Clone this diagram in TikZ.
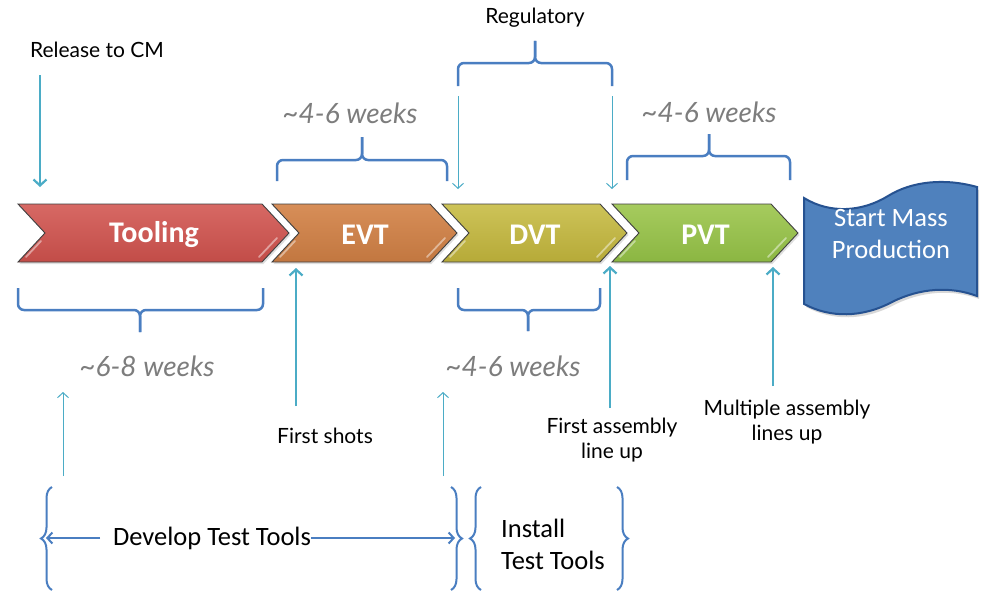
\documentclass[tikz,border=0pt]{standalone}
\usepackage{fontspec}
\newfontfamily\labfont{Lato}
\newfontfamily\calfont{Carlito}
\usetikzlibrary{arrows.meta,decorations.pathreplacing,shadows}
\definecolor{arrteal}{RGB}{75,172,198}
\definecolor{braceblue}{RGB}{74,126,193}
\definecolor{wkgray}{RGB}{125,125,125}
\definecolor{toolA}{RGB}{215,105,100}
\definecolor{toolB}{RGB}{194,76,72}
\definecolor{evtA}{RGB}{215,142,88}
\definecolor{evtB}{RGB}{194,119,64}
\definecolor{dvtA}{RGB}{205,195,88}
\definecolor{dvtB}{RGB}{182,170,56}
\definecolor{pvtA}{RGB}{166,203,94}
\definecolor{pvtB}{RGB}{139,182,66}
\definecolor{massfill}{RGB}{79,129,189}
\definecolor{massdraw}{RGB}{38,82,145}
\newcommand\tld{\char126\relax}
\tikzset{
  thickarr/.style={draw=arrteal, line width=2.2pt, -{Straight Barb[length=6pt,width=13pt]}},
  thinarr/.style={draw=arrteal, line width=1pt, -{Straight Barb[length=5pt,width=11pt]}},
  brc/.style={draw=braceblue, line width=2.5pt, rounded corners=6pt},
  vbrace/.style={draw=braceblue, line width=2pt, decorate, decoration={brace, amplitude=11pt}},
  blarr/.style={draw=braceblue, line width=2pt, -{Straight Barb[length=5pt,width=11pt]}},
  lbl/.style={font=\labfont\fontsize{21}{25}\selectfont, text=black, inner sep=0pt, align=center},
  wk/.style={font=\labfont\itshape\fontsize{28}{32}\selectfont, text=wkgray, inner sep=0pt},
  chevtext/.style={font=\calfont\bfseries\fontsize{30}{34}\selectfont, text=white, inner sep=0pt},
  caltext/.style={font=\calfont\fontsize{26.5}{32}\selectfont, inner sep=0pt},
}
\newcommand\mychev[6]{%
  \path[draw=black!75, line width=0.9pt, top color=#3, bottom color=#4,
        drop shadow={opacity=0.25, shadow xshift=1.5pt, shadow yshift=-2pt}]
    (#1,204) -- (#2,204) -- ({#2+27},233) -- (#2,262) -- (#1,262) -- ({#1+27},233) -- cycle;
  \draw[white, opacity=0.45, line width=1.8pt, line cap=round] ({#1+8},257) -- ({#1+23},241);
  \draw[white, opacity=0.45, line width=1.8pt, line cap=round] ({#2-3},257) -- ({#2+15},238);
  \node[chevtext] (#5) at ({(#1+#2)/2+14},235) {#6};
}
\begin{document}
\begin{tikzpicture}[x=1pt,y=-1pt]
\useasboundingbox[fill=white] (0,0) rectangle (984,594);

% chevrons
\mychev{18}{262}{toolA}{toolB}{tooling}{Tooling}
\mychev{272}{430}{evtA}{evtB}{evt}{EVT}
\mychev{442}{600}{dvtA}{dvtB}{dvt}{DVT}
\mychev{612}{771}{pvtA}{pvtB}{pvt}{PVT}

% mass production box
\path[fill=massfill, draw=massdraw, line width=2pt,
      drop shadow={opacity=0.3, shadow xshift=2pt, shadow yshift=-3pt}]
  (804,198) .. controls (830,214) and (862,212) .. (888,196)
  .. controls (912,181) and (945,178) .. (977,187)
  -- (977,296) .. controls (950,286) and (920,288) .. (892,302)
  .. controls (862,318) and (830,318) .. (804,304) -- cycle;
\node[caltext, text=white, align=center] (mass) at (891,234) {Start Mass\\Production};

% top labels
\node[lbl] (rel) at (97,50) {Release to CM};
\coordinate (relA) at (40,75);
\coordinate (relB) at (40,187);
\draw[thickarr] (relA) -- (relB);

\node[wk] (wk1) at (350,113) {\tld4-6 weeks};
\draw[brc] (277,181) -- (277,160) -- (362,160) -- (362,137);
\draw[brc] (447,181) -- (447,160) -- (362,160) -- (362,137);

\node[lbl] (reg) at (535,18) {Regulatory};
\draw[brc] (458,86) -- (458,63) -- (535,63) -- (535,41);
\draw[brc] (612,86) -- (612,63) -- (535,63) -- (535,41);
\coordinate (regA1) at (458,96);
\coordinate (regB1) at (458,189);
\coordinate (regA2) at (612,96);
\coordinate (regB2) at (612,189);
\draw[thinarr] (regA1) -- (regB1);
\draw[thinarr] (regA2) -- (regB2);

\node[wk] (wk3) at (709,112) {\tld4-6 weeks};
\draw[brc] (627,180) -- (627,156) -- (709,156) -- (709,134);
\draw[brc] (790,180) -- (790,156) -- (709,156) -- (709,134);

% bottom braces
\draw[brc] (18,288) -- (18,310) -- (140,310) -- (140,332);
\draw[brc] (263,288) -- (263,310) -- (140,310) -- (140,332);
\node[wk] (wk2) at (147,366) {\tld6-8 weeks};

\draw[brc] (458,288) -- (458,310) -- (528,310) -- (528,331);
\draw[brc] (600,288) -- (600,310) -- (528,310) -- (528,331);
\node[wk] (wk4) at (513,366) {\tld4-6 weeks};

% upward arrows
\node[lbl] (shots) at (325,436) {First shots};
\coordinate (shA) at (296,406);
\coordinate (shB) at (296,268);
\draw[thickarr] (shA) -- (shB);

\node[lbl] (fal) at (612,440) {First assembly\\line up};
\coordinate (faA) at (610,408);
\coordinate (faB) at (610,266);
\draw[thickarr] (faA) -- (faB);

\node[lbl] (mal) at (787,422) {Multiple assembly\\lines up};
\coordinate (maA) at (773,386);
\coordinate (maB) at (773,267);
\draw[thickarr] (maA) -- (maB);

\coordinate (t1A) at (63,476);
\coordinate (t1B) at (63,392);
\draw[thinarr] (t1A) -- (t1B);
\coordinate (t2A) at (443,476);
\coordinate (t2B) at (443,392);
\draw[thinarr] (t2A) -- (t2B);

% bottom curly braces
\draw[vbrace] (52,590) -- (52,487);
\draw[vbrace] (451,487) -- (451,590);
\draw[vbrace] (481,590) -- (481,487);
\draw[vbrace] (617,487) -- (617,590);

\node[caltext] (dev) at (212,538) {Develop Test Tools};
\coordinate (devL) at (46,538);
\coordinate (devR) at (455,538);
\coordinate (devLs) at (100,538);
\draw[blarr] (devLs) -- (devL);
\draw[blarr] (dev.east) -- (devR);

\node[caltext, align=left, anchor=west] (inst) at (501,544) {Install\\Test Tools};
\end{tikzpicture}
\end{document}
